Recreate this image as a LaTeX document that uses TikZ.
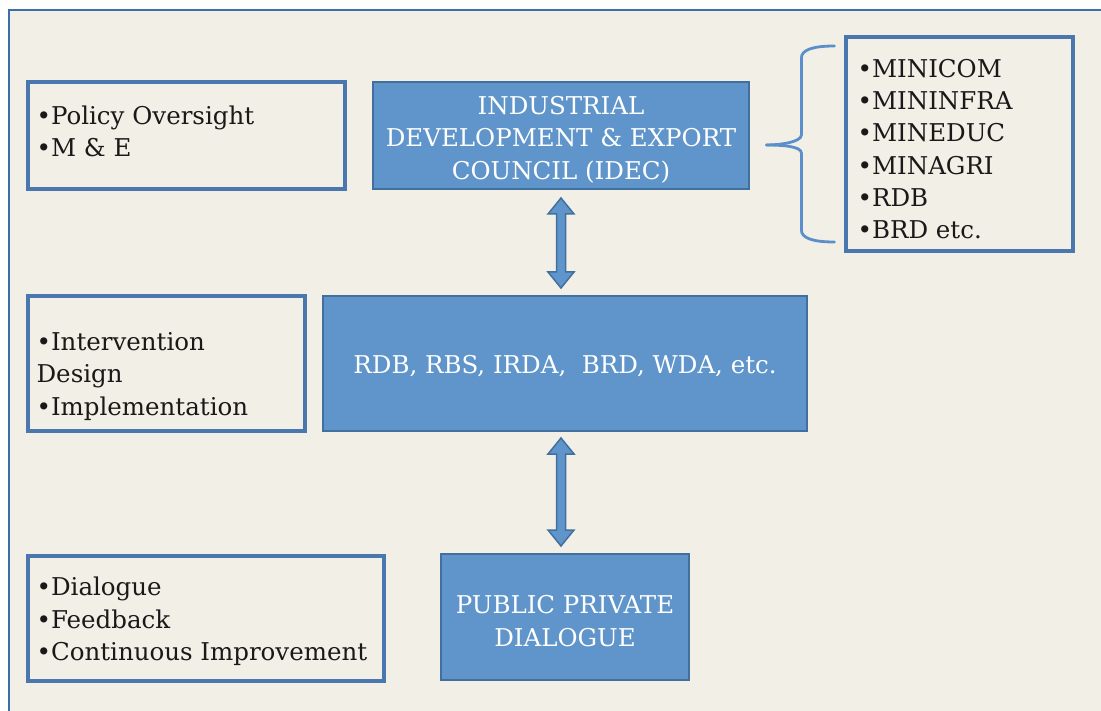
\documentclass[tikz,border=0pt]{standalone}
\usepackage{fontspec}
\setmainfont{DejaVu Serif}
\usetikzlibrary{calc}
\definecolor{bg}{HTML}{F2EFE7}
\definecolor{bluefill}{HTML}{5F95CA}
\definecolor{blueedge}{HTML}{41709F}
\definecolor{boxedge}{HTML}{4A78AE}
\definecolor{frameblue}{HTML}{3C6EAA}
\definecolor{bracecol}{HTML}{5B8FCB}
\tikzset{
  bluebox/.style={draw=blueedge, line width=2pt, fill=bluefill, text=white, align=center, inner sep=0pt},
  notebox/.style={draw=boxedge, line width=3.2pt, fill=bg, inner sep=0pt},
  notetext/.style={anchor=west, align=left, inner sep=0pt, text=black!90},
  blockarrow/.style={draw=blueedge, line width=1.5pt, fill=bluefill, line join=miter},
  txt/.style={font=\fontsize{24.5}{32.3}\selectfont},
  btxt/.style={font=\fontsize{24.5}{32.5}\selectfont}
}
\newcommand{\dblarrow}[2]{%
  \draw[blockarrow] (#1) -- ++(13,16) -- ++(-8.5,0) |- ($(#2)+(4.5,-16)$) -- ++(8.5,0) -- (#2) -- ++(-13,-16) -- ++(8.5,0) |- ($(#1)+(-4.5,16)$) -- ++(-8.5,0) -- cycle;}
\begin{document}
\begin{tikzpicture}[x=1pt,y=-1pt]
\useasboundingbox (0,0) rectangle (1101,711);
\fill[white] (0,0) rectangle (1101,711);
\fill[bg] (9,10) rectangle (1101,711);
\draw[frameblue, line width=2.5pt] (9,711) -- (9,10) -- (1101,10);

% left notes
\node[notebox, minimum width=317, minimum height=107] (n1) at (186.5,135.5) {};
\node[notetext, txt] (t1) at ($(n1.west)+(10,-4)$) {•Policy Oversight\\•M \& E};
\node[notebox, minimum width=277, minimum height=135] (n2) at (166.5,363.5) {};
\node[notetext, txt] (t2) at ($(n2.west)+(10,13)$) {•Intervention\\Design\\•Implementation};
\node[notebox, minimum width=356, minimum height=125] (n3) at (206,618.5) {};
\node[notetext, txt] (t3) at ($(n3.west)+(10,3)$) {•Dialogue\\•Feedback\\•Continuous Improvement};

% blue boxes
\node[bluebox, minimum width=376, minimum height=107] (idec) at (561,135.5) {};
\node[btxt, text=white, align=center, inner sep=0pt] (idect) at ($(idec.center)+(0,4)$) {INDUSTRIAL\\DEVELOPMENT \& EXPORT\\COUNCIL (IDEC)};
\node[bluebox, minimum width=484, minimum height=135] (mid) at (565,363.5) {};
\node[btxt, text=white, inner sep=0pt] (midt) at ($(mid.center)+(0,3)$) {RDB, RBS, IRDA,\ \ BRD, WDA, etc.};
\node[bluebox, minimum width=248, minimum height=126] (ppd) at (565,617) {};
\node[btxt, text=white, align=center, inner sep=0pt] (ppdt) at ($(ppd.center)+(0,4)$) {PUBLIC PRIVATE\\DIALOGUE};

% right list
\node[notebox, minimum width=227, minimum height=214] (list) at (959.5,144) {};
\node[notetext, txt] (tl) at ($(list.west)+(13,5)$) {•MINICOM\\•MININFRA\\•MINEDUC\\•MINAGRI\\•RDB\\•BRD etc.};

% brace
\draw[bracecol, line width=2.8pt, line cap=round] ($(list.west)+(-10,-98)$) coordinate (bt)
  .. controls +(-22,0) and +(0,-8) .. ($(list.west)+(-43,-86)$)
  -- ($(list.west)+(-43,-9)$)
  .. controls +(0,7) and +(14,0) .. ($(list.west)+(-78,1)$) coordinate (tip);
\draw[bracecol, line width=2.8pt, line cap=round] ($(list.west)+(-10,98)$)
  .. controls +(-22,0) and +(0,8) .. ($(list.west)+(-43,86)$)
  -- ($(list.west)+(-43,9)$)
  .. controls +(0,-7) and +(14,0) .. ($(list.west)+(-78,1)$);

% arrows
\coordinate (a1t) at ($(idec.south)+(0,8)$);
\coordinate (a1b) at ($(mid.north -| idec.south)+(0,-7)$);
\dblarrow{a1t}{a1b}
\coordinate (a2t) at ($(mid.south -| idec.south)+(0,6)$);
\coordinate (a2b) at ($(ppd.north -| idec.south)+(0,-7)$);
\dblarrow{a2t}{a2b}
\end{tikzpicture}
\end{document}
